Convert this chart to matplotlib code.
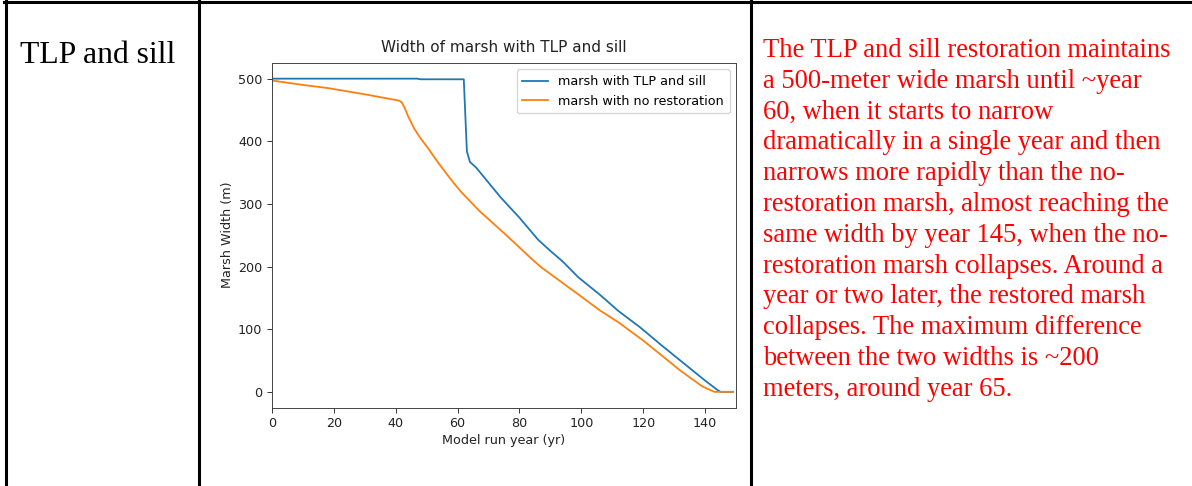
import matplotlib
matplotlib.use("Agg")
import matplotlib.pyplot as plt
from matplotlib.lines import Line2D

# data
sill_years = [0, 47, 48, 62, 63, 64, 66, 67, 70, 74, 80, 86, 90, 94, 99, 106,
              112, 119, 126, 132, 140, 144, 145, 149]
sill_width = [500, 500, 499, 499, 384, 367, 358, 352, 334, 310, 278, 243, 225,
              208, 183, 155, 129, 103, 74, 50, 18, 3, 0, 0]

none_years = [0, 10, 18, 30, 40, 41, 42, 43, 44, 46, 48, 50, 54, 58, 61, 67,
              76, 84, 87, 100, 106, 112, 120, 132, 139, 143, 149]
none_width = [497, 490, 485, 475, 466, 465, 462, 452, 440, 420, 405, 392, 364,
              338, 320, 289, 249, 212, 199, 152, 130, 111, 82, 34, 9, 0, 0]

row_label = "TLP and sill"
chart_title = "Width of marsh with TLP and sill"
legend_labels = ["marsh with TLP and sill", "marsh with no restoration"]
note_lines = [
    "The TLP and sill restoration maintains",
    "a 500-meter wide marsh until ~year",
    "60, when it starts to narrow",
    "dramatically in a single year and then",
    "narrows more rapidly than the no-",
    "restoration marsh, almost reaching the",
    "same width by year 145, when the no-",
    "restoration marsh collapses. Around a",
    "year or two later, the restored marsh",
    "collapses. The maximum difference",
    "between the two widths is ~200",
    "meters, around year 65.",
]

W, H = 1192, 486
fig = plt.figure(figsize=(W / 100, H / 100), dpi=100)

# table borders
def hline(y, x0, x1):
    fig.add_artist(Line2D([x0 / W, x1 / W], [1 - y / H, 1 - y / H],
                          color="black", lw=2.2, transform=fig.transFigure))

def vline(x, y0, y1):
    fig.add_artist(Line2D([x / W, x / W], [1 - y0 / H, 1 - y1 / H],
                          color="black", lw=2.2, transform=fig.transFigure))

hline(2.5, 4, W)
vline(5.5, 1, H)
vline(198.5, 1, H)
vline(751, 1, H)

# left cell
fig.text(20 / W, 1 - 63 / H, row_label, fontsize=22.8, family="Liberation Serif",
         ha="left", va="baseline", color="black")

# right cell
for i, line in enumerate(note_lines):
    fig.text(763 / W, 1 - (57 + i * 30.8) / H, line, fontsize=19.1,
             family="Liberation Serif", color="#ff0000",
             ha="left", va="baseline")

# chart
ax = fig.add_axes([272 / W, 1 - 407.5 / H, (736 - 272) / W, (407.5 - 63) / H])
ax.plot(sill_years, sill_width, color="#1f77b4", lw=1.3, label=legend_labels[0])
ax.plot(none_years, none_width, color="#ff7f0e", lw=1.3, label=legend_labels[1])
ax.set_xlim(0, 150)
ax.set_ylim(-25, 525)
ax.set_xticks(range(0, 141, 20))
ax.set_yticks(range(0, 501, 100))
ax.tick_params(labelsize=9.2, length=3.5, width=0.7, color="#333333", labelcolor="#222222")
for s in ax.spines.values():
    s.set_linewidth(0.7)
    s.set_color("#444444")
ax.set_title(chart_title, fontsize=11, color="#222222", pad=8)
ax.set_xlabel("Model run year (yr)", fontsize=9.2, color="#222222", labelpad=3)
ax.set_ylabel("Marsh Width (m)", fontsize=9.2, color="#222222", labelpad=2.5)
ax.legend(loc="upper right", fontsize=9.2, handlelength=2.0, borderpad=0.45,
          labelspacing=0.5, framealpha=0.8)

fig.savefig("out.png", dpi=100)
